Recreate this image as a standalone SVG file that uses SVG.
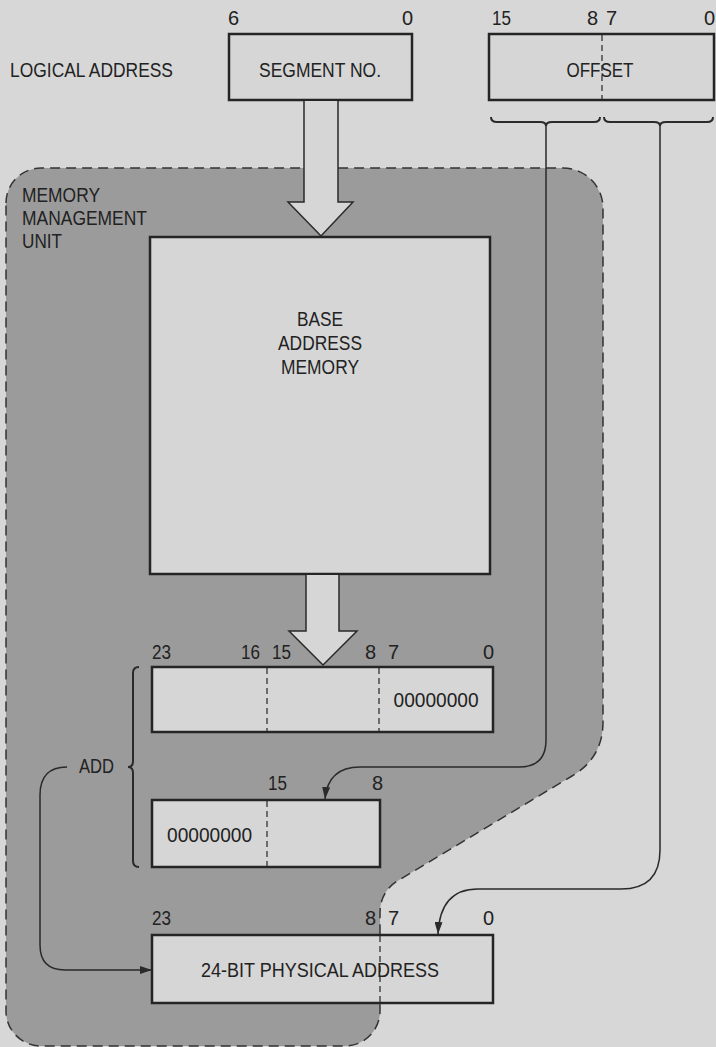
<svg xmlns="http://www.w3.org/2000/svg" width="716" height="1047" viewBox="0 0 716 1047">
<style>
text{font-family:"Liberation Sans",Arial,sans-serif;font-size:20px;fill:#222}
.box{fill:#d6d6d6;stroke:#252525;stroke-width:2.5}
.div{stroke:#333;stroke-width:1.3;stroke-dasharray:6,4;fill:none}
.ln{fill:none;stroke:#2a2a2a;stroke-width:1.5}
.br{fill:none;stroke:#2a2a2a;stroke-width:2}
.hol{fill:#d6d6d6;stroke:#2a2a2a;stroke-width:1.5}
.mid{text-anchor:middle}
.end{text-anchor:end}
</style>
<defs>
<marker id="ah" markerUnits="userSpaceOnUse" markerWidth="12" markerHeight="8" refX="12" refY="4" orient="auto">
<path d="M0,0 L12,4 L0,8 z" fill="#2a2a2a"/>
</marker>
</defs>
<rect width="716" height="1047" fill="#d7d7d7"/>
<g id="mmu">
<path d="M6,203 A35,35 0 0 1 41,168 L563,168 A40,40 0 0 1 603,208 L603,722 Q603,758 572,776 L399,880 Q380,891 380,913 L380,1011 A35,35 0 0 1 345,1046 L41,1046 A35,35 0 0 1 6,1011 Z" fill="#9b9b9b" stroke="#333" stroke-width="1.5" stroke-dasharray="10,6"/>
<text x="22" y="202" textLength="78" lengthAdjust="spacingAndGlyphs">MEMORY</text>
<text x="22" y="225" textLength="125" lengthAdjust="spacingAndGlyphs">MANAGEMENT</text>
<text x="22" y="248" textLength="40" lengthAdjust="spacingAndGlyphs">UNIT</text>
</g>
<g id="logical">
<text x="10" y="77" textLength="163" lengthAdjust="spacingAndGlyphs">LOGICAL ADDRESS</text>
</g>
<g id="segment">
<rect class="box" x="229" y="34" width="183" height="66"/>
<text class="mid" x="320" y="77" textLength="122" lengthAdjust="spacingAndGlyphs">SEGMENT NO.</text>
<text x="228" y="25">6</text>
<text class="end" x="413" y="25">0</text>
</g>
<g id="offset">
<rect class="box" x="489" y="34" width="225" height="66"/>
<line class="div" x1="602" y1="35" x2="602" y2="99"/>
<text class="mid" x="600" y="77" textLength="67" lengthAdjust="spacingAndGlyphs">OFFSET</text>
<text x="492" y="25" textLength="19" lengthAdjust="spacingAndGlyphs">15</text>
<text x="587" y="25">8</text>
<text x="606" y="25">7</text>
<text class="end" x="715" y="25">0</text>
</g>
<g id="bam">
<rect class="box" x="150" y="237" width="340" height="337"/>
<text class="mid" x="320" y="326" textLength="46" lengthAdjust="spacingAndGlyphs">BASE</text>
<text class="mid" x="320" y="350" textLength="84" lengthAdjust="spacingAndGlyphs">ADDRESS</text>
<text class="mid" x="320" y="374" textLength="78" lengthAdjust="spacingAndGlyphs">MEMORY</text>
</g>
<g id="reg1">
<rect class="box" x="152" y="667" width="341" height="65"/>
<line class="div" x1="267" y1="668" x2="267" y2="731"/>
<line class="div" x1="379" y1="668" x2="379" y2="731"/>
<text class="mid" x="436" y="707" textLength="85" lengthAdjust="spacingAndGlyphs">00000000</text>
<text x="152" y="659" textLength="19" lengthAdjust="spacingAndGlyphs">23</text>
<text x="241" y="659" textLength="19" lengthAdjust="spacingAndGlyphs">16</text>
<text x="272" y="659" textLength="19" lengthAdjust="spacingAndGlyphs">15</text>
<text x="365" y="659">8</text>
<text x="388" y="659">7</text>
<text class="end" x="494" y="659">0</text>
</g>
<g id="reg2">
<rect class="box" x="152" y="800" width="228" height="67"/>
<line class="div" x1="267" y1="801" x2="267" y2="866"/>
<text x="167" y="842" textLength="85" lengthAdjust="spacingAndGlyphs">00000000</text>
<text x="268" y="790" textLength="19" lengthAdjust="spacingAndGlyphs">15</text>
<text x="372" y="790">8</text>
</g>
<g id="add">
<path class="br" d="M139,667 Q133,667 133,673 L133,761 Q133,767 128,767 Q133,767 133,773 L133,861 Q133,867 139,867"/>
<text x="79" y="773" textLength="35" lengthAdjust="spacingAndGlyphs">ADD</text>
</g>
<g id="physical">
<rect class="box" x="152" y="935" width="341" height="68"/>
<line class="div" x1="380" y1="936" x2="380" y2="1002"/>
<text class="mid" x="320" y="977" textLength="238" lengthAdjust="spacingAndGlyphs">24-BIT PHYSICAL ADDRESS</text>
<text x="152" y="925" textLength="19" lengthAdjust="spacingAndGlyphs">23</text>
<text x="365" y="925">8</text>
<text x="388" y="925">7</text>
<text class="end" x="494" y="925">0</text>
</g>
<g id="connectors">
<path class="hol" d="M304,101 L304,202 L288,202 L321,236 L353,202 L338,202 L338,101"/>
<path class="hol" d="M306,575 L306,631 L289,631 L323,665 L357,631 L339,631 L339,575"/>
<path class="br" d="M491,117 Q491,122 497,122 L540,122 Q546,122 546,126 Q546,122 552,122 L594,122 Q600,122 600,117"/>
<path class="br" d="M604,117 Q604,122 610,122 L654,122 Q660,122 660,126 Q660,122 666,122 L707,122 Q713,122 713,117"/>
<path class="ln" d="M546,126 L546,740 Q546,767 519,767 L360,767 Q328,767 325,799" marker-end="url(#ah)"/>
<path class="ln" d="M660,126 L660,850 Q660,889 621,889 L478,889 Q440,889 438,934" marker-end="url(#ah)"/>
<path class="ln" d="M67,767 Q40,767 40,795 L40,945 Q40,970 65,970 L152,970" marker-end="url(#ah)"/>
</g>
</svg>
